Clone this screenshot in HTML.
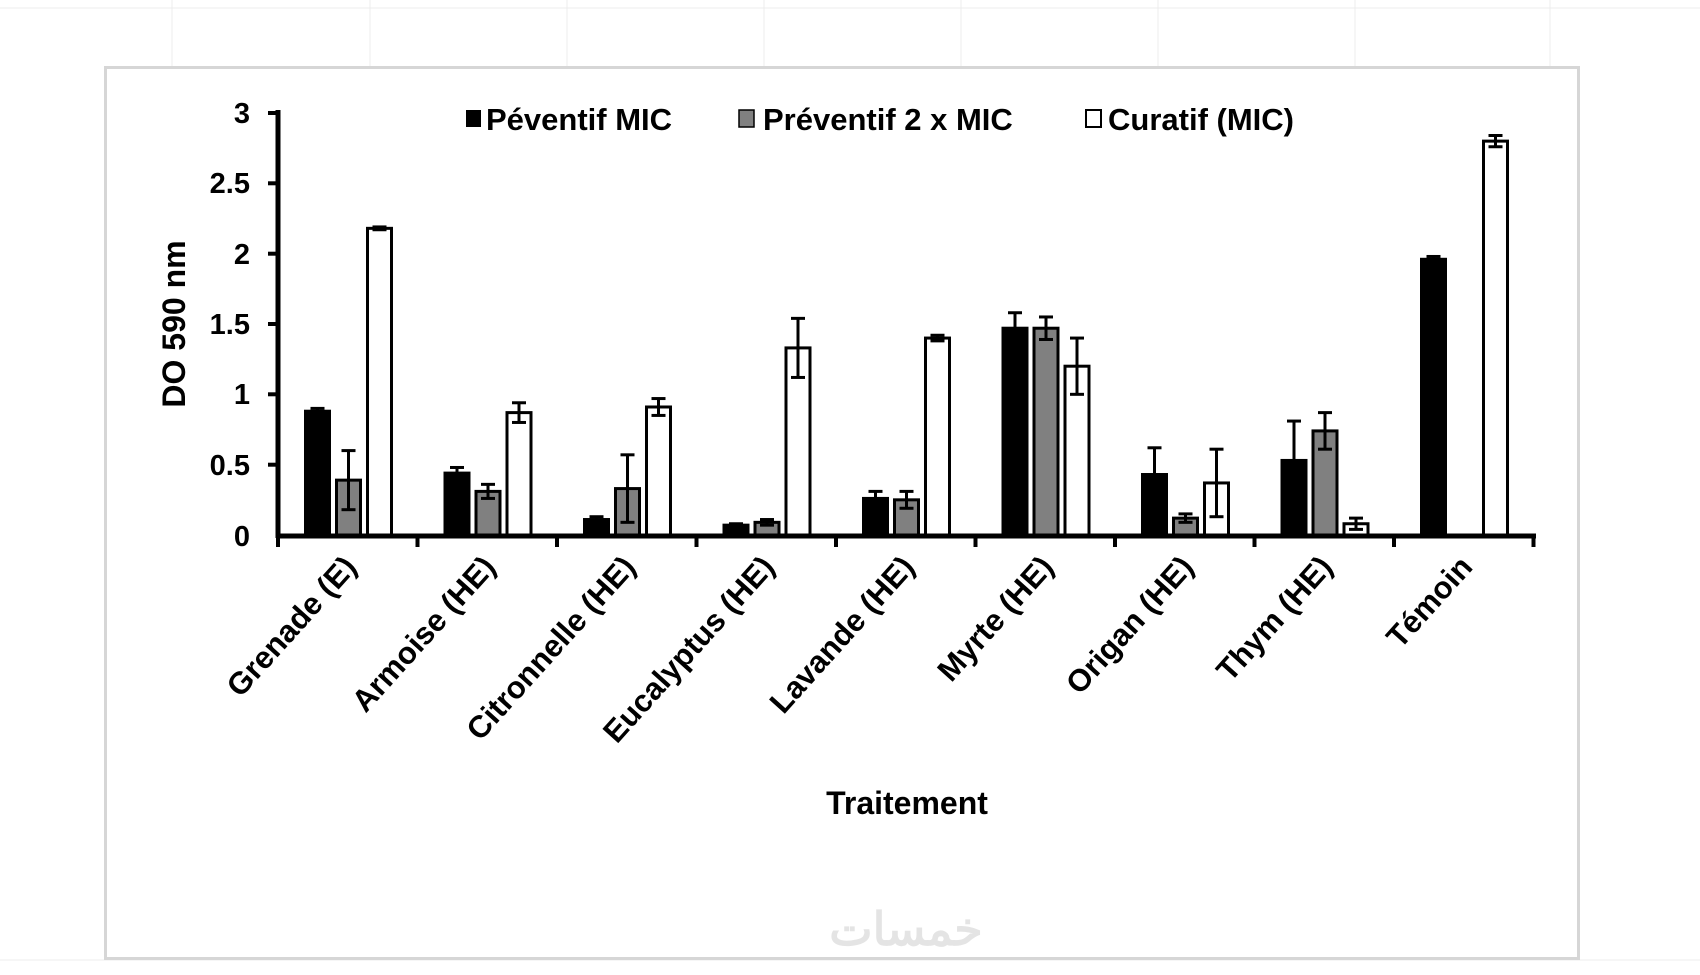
<!DOCTYPE html>
<html><head><meta charset="utf-8"><style>
html,body{margin:0;padding:0;background:#fff}
svg text{font-family:"Liberation Sans",Arial,sans-serif;font-weight:bold;fill:#000}
</style></head><body>
<svg id="s" width="1700" height="970" viewBox="0 0 1700 970" xmlns="http://www.w3.org/2000/svg">
<g stroke="#ececec" stroke-width="1">
<line x1="0" y1="8" x2="1700" y2="8"/><line x1="0" y1="960" x2="1700" y2="960"/>
<line x1="172" y1="0" x2="172" y2="67"/><line x1="370" y1="0" x2="370" y2="67"/><line x1="567" y1="0" x2="567" y2="67"/><line x1="764" y1="0" x2="764" y2="67"/><line x1="961" y1="0" x2="961" y2="67"/><line x1="1158" y1="0" x2="1158" y2="67"/><line x1="1355" y1="0" x2="1355" y2="67"/><line x1="1550" y1="0" x2="1550" y2="67"/>
</g>
<rect x="105.5" y="67.5" width="1473" height="891" fill="#fff" stroke="#d6d6d6" stroke-width="3"/>
<text x="906" y="945" font-size="46" text-anchor="middle" style="fill:#e4e4e4;font-family:'Liberation Sans','Noto Sans CJK SC',sans-serif">خمسات</text>
<g id="bars"></g>
<line x1="278" y1="110" x2="278" y2="538" stroke="#000" stroke-width="5"/>
<line x1="276" y1="536" x2="1536" y2="536" stroke="#000" stroke-width="5"/>
<g stroke="#000" stroke-width="4">
<line x1="268" y1="113" x2="278" y2="113"/><line x1="268" y1="183.3" x2="278" y2="183.3"/><line x1="268" y1="253.7" x2="278" y2="253.7"/><line x1="268" y1="324" x2="278" y2="324"/><line x1="268" y1="394.3" x2="278" y2="394.3"/><line x1="268" y1="464.7" x2="278" y2="464.7"/>
<line x1="278" y1="536" x2="278" y2="547"/><line x1="417.5" y1="536" x2="417.5" y2="547"/><line x1="557" y1="536" x2="557" y2="547"/><line x1="696.5" y1="536" x2="696.5" y2="547"/><line x1="836" y1="536" x2="836" y2="547"/><line x1="975.5" y1="536" x2="975.5" y2="547"/><line x1="1115" y1="536" x2="1115" y2="547"/><line x1="1254.5" y1="536" x2="1254.5" y2="547"/><line x1="1394" y1="536" x2="1394" y2="547"/><line x1="1533.5" y1="536" x2="1533.5" y2="547"/>
</g>
<g font-size="29" text-anchor="end">
<text x="250" y="123">3</text><text x="250" y="193">2.5</text><text x="250" y="264">2</text><text x="250" y="334">1.5</text><text x="250" y="404">1</text><text x="250" y="475">0.5</text><text x="250" y="546">0</text>
</g>
<text transform="translate(185,324) rotate(-90)" font-size="32" text-anchor="middle">DO 590 nm</text>
<g font-size="31" text-anchor="end">
<text transform="translate(358,568) rotate(-48)">Grenade (E)</text>
<text transform="translate(497,568) rotate(-48)">Armoise (HE)</text>
<text transform="translate(637,568) rotate(-48)">Citronnelle (HE)</text>
<text transform="translate(776,568) rotate(-48)">Eucalyptus (HE)</text>
<text transform="translate(916,568) rotate(-48)">Lavande (HE)</text>
<text transform="translate(1055,568) rotate(-48)">Myrte (HE)</text>
<text transform="translate(1195,568) rotate(-48)">Origan (HE)</text>
<text transform="translate(1334,568) rotate(-48)">Thym (HE)</text>
<text transform="translate(1474,568) rotate(-48)">Témoin</text>
</g>
<text x="907" y="814" font-size="32" text-anchor="middle">Traitement</text>
<g font-size="31">
<rect x="466" y="110" width="15" height="17" fill="#000"/><text x="486" y="130">Péventif MIC</text>
<rect x="739" y="110" width="15" height="17" fill="#808080" stroke="#000" stroke-width="1.5"/><text x="763" y="130">Préventif 2 x MIC</text>
<rect x="1086" y="110" width="15" height="17" fill="#fff" stroke="#000" stroke-width="2"/><text x="1108" y="130">Curatif (MIC)</text>
</g>
</svg>
<script>
var d=[[[.88,.02],[.39,.21],[2.18,.01]],[[.44,.04],[.31,.05],[.87,.07]],[[.11,.02],[.33,.24],[.91,.06]],[[.07,.01],[.09,.02],[1.33,.21]],[[.26,.05],[.25,.06],[1.40,.02]],[[1.47,.11],[1.47,.08],[1.20,.20]],[[.43,.19],[.12,.03],[.37,.24]],[[.53,.28],[.74,.13],[.08,.04]],[[1.96,.02],null,[2.80,.04]]];
var fills=["#000","#808080","#fff"],g=document.getElementById("bars"),y0=535,k=140.67,h="";
d.forEach(function(gr,i){gr.forEach(function(b,j){if(!b)return;var x=278+i*139.5+26+j*31,w=27,y=y0-b[0]*k;
h+='<rect x="'+(x+1.5)+'" y="'+y+'" width="'+(w-3)+'" height="'+(y0-y)+'" fill="'+fills[j]+'" stroke="#000" stroke-width="3"/>';
var cx=x+w/2,t=y0-(b[0]+b[1])*k,bt=y0-(b[0]-b[1])*k;
h+='<g stroke="#000" stroke-width="3"><line x1="'+cx+'" y1="'+t+'" x2="'+cx+'" y2="'+bt+'"/><line x1="'+(cx-7)+'" y1="'+t+'" x2="'+(cx+7)+'" y2="'+t+'"/><line x1="'+(cx-7)+'" y1="'+bt+'" x2="'+(cx+7)+'" y2="'+bt+'"/></g>';});});
g.innerHTML=h;
</script>
</body></html>
